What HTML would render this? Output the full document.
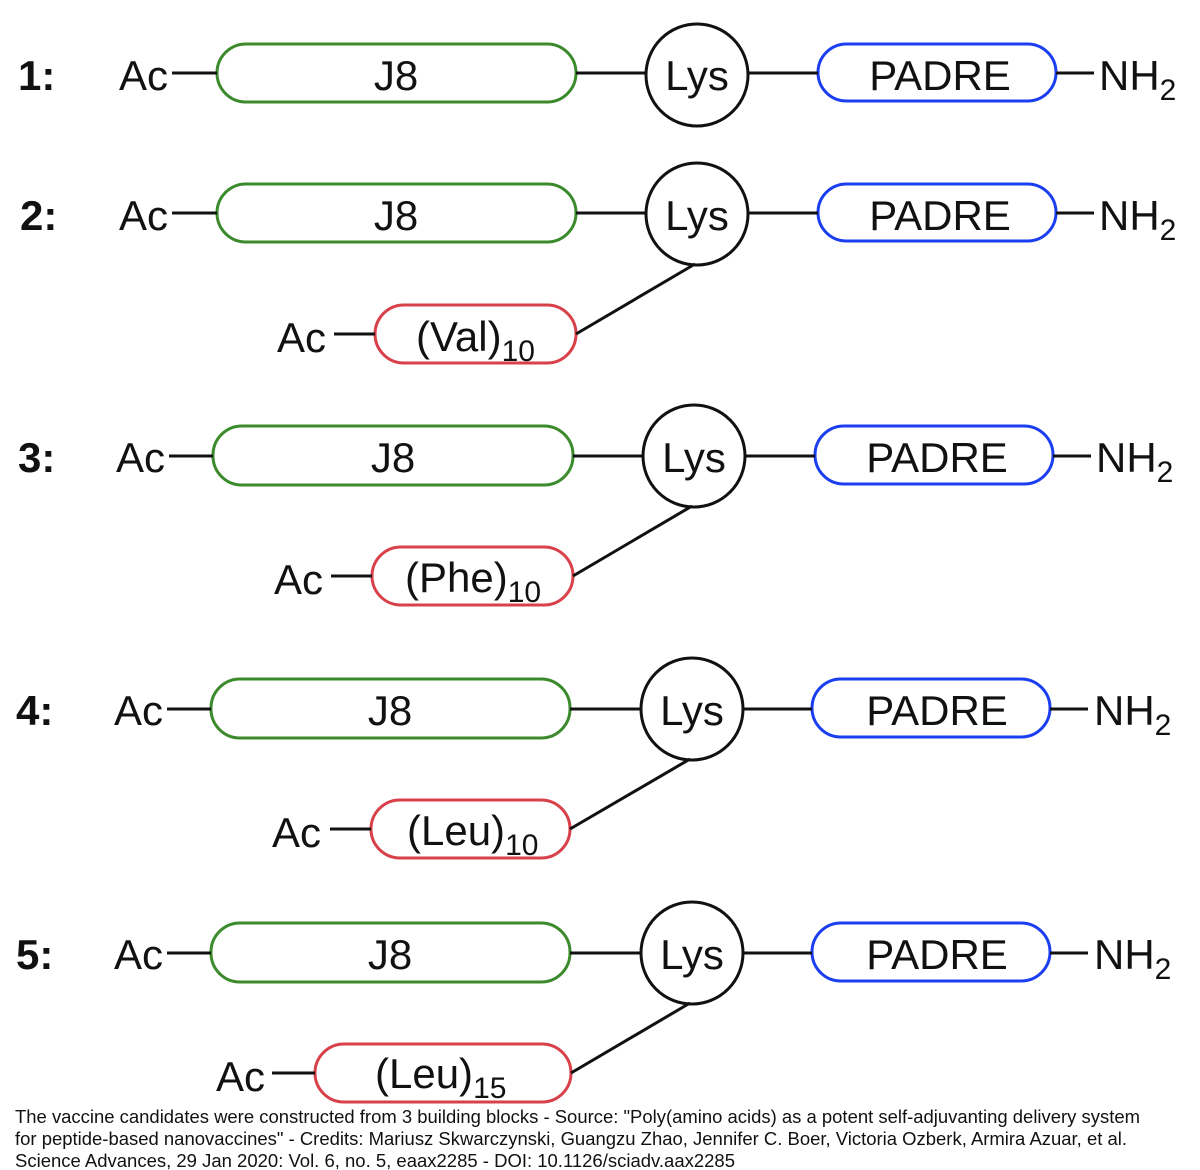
<!DOCTYPE html>
<html><head><meta charset="utf-8"><style>
html,body{margin:0;padding:0;background:#fff;}
svg{display:block;}
text{font-family:"Liberation Sans",Arial,sans-serif;fill:#111;}
</style></head><body>
<svg width="1200" height="1170" viewBox="0 0 1200 1170" xmlns="http://www.w3.org/2000/svg">
<g stroke-width="3" fill="none">
<!-- Row 1 -->
<rect x="217" y="44" width="359" height="58" rx="29" stroke="#3b8a2c"/>
<rect x="818" y="44" width="238" height="57" rx="28.5" stroke="#1a3ef0"/>
<circle cx="697" cy="75" r="51" stroke="#111"/>
<line x1="172" y1="73" x2="217" y2="73" stroke="#111"/>
<line x1="576" y1="73" x2="646" y2="73" stroke="#111"/>
<line x1="748" y1="73" x2="818" y2="73" stroke="#111"/>
<line x1="1056" y1="73" x2="1094" y2="73" stroke="#111"/>
<!-- Row 2 -->
<rect x="217" y="184" width="359" height="58" rx="29" stroke="#3b8a2c"/>
<rect x="818" y="184" width="238" height="57" rx="28.5" stroke="#1a3ef0"/>
<circle cx="697" cy="214" r="51" stroke="#111"/>
<rect x="375" y="305" width="201" height="58" rx="29" stroke="#d8404a"/>
<line x1="172" y1="213" x2="217" y2="213" stroke="#111"/>
<line x1="576" y1="213" x2="646" y2="213" stroke="#111"/>
<line x1="748" y1="213" x2="818" y2="213" stroke="#111"/>
<line x1="1056" y1="213" x2="1094" y2="213" stroke="#111"/>
<line x1="334" y1="334" x2="375" y2="334" stroke="#111"/>
<line x1="576" y1="334" x2="695" y2="264" stroke="#111"/>
<!-- Row 3 -->
<rect x="213" y="426" width="360" height="59" rx="29" stroke="#3b8a2c"/>
<rect x="815" y="426" width="238" height="58" rx="29" stroke="#1a3ef0"/>
<circle cx="694" cy="456" r="51" stroke="#111"/>
<rect x="372" y="547" width="201" height="58" rx="29" stroke="#d8404a"/>
<line x1="169" y1="456" x2="213" y2="456" stroke="#111"/>
<line x1="573" y1="456" x2="643" y2="456" stroke="#111"/>
<line x1="745" y1="456" x2="815" y2="456" stroke="#111"/>
<line x1="1053" y1="456" x2="1091" y2="456" stroke="#111"/>
<line x1="331" y1="576" x2="372" y2="576" stroke="#111"/>
<line x1="573" y1="576" x2="692" y2="506" stroke="#111"/>
<!-- Row 4 -->
<rect x="211" y="679" width="359" height="59" rx="29" stroke="#3b8a2c"/>
<rect x="812" y="679" width="238" height="58" rx="29" stroke="#1a3ef0"/>
<circle cx="692" cy="709" r="51" stroke="#111"/>
<rect x="371" y="800" width="199" height="58" rx="29" stroke="#d8404a"/>
<line x1="167" y1="709" x2="211" y2="709" stroke="#111"/>
<line x1="570" y1="709" x2="641" y2="709" stroke="#111"/>
<line x1="743" y1="709" x2="812" y2="709" stroke="#111"/>
<line x1="1050" y1="709" x2="1088" y2="709" stroke="#111"/>
<line x1="330" y1="829" x2="371" y2="829" stroke="#111"/>
<line x1="570" y1="829" x2="690" y2="759" stroke="#111"/>
<!-- Row 5 -->
<rect x="211" y="923" width="359" height="59" rx="29" stroke="#3b8a2c"/>
<rect x="812" y="923" width="238" height="58" rx="29" stroke="#1a3ef0"/>
<circle cx="692" cy="953" r="51" stroke="#111"/>
<rect x="315" y="1044" width="256" height="58" rx="29" stroke="#d8404a"/>
<line x1="167" y1="953" x2="211" y2="953" stroke="#111"/>
<line x1="570" y1="953" x2="641" y2="953" stroke="#111"/>
<line x1="743" y1="953" x2="812" y2="953" stroke="#111"/>
<line x1="1050" y1="953" x2="1088" y2="953" stroke="#111"/>
<line x1="272" y1="1073" x2="315" y2="1073" stroke="#111"/>
<line x1="571" y1="1073" x2="690" y2="1003" stroke="#111"/>
</g>
<g font-size="42">
<!-- Row 1 -->
<text x="18" y="90" font-weight="bold">1:</text>
<text x="119" y="90">Ac</text>
<text x="396" y="90" text-anchor="middle">J8</text>
<text x="697" y="90" text-anchor="middle">Lys</text>
<text x="940" y="90" text-anchor="middle">PADRE</text>
<text x="1099" y="90">NH<tspan font-size="30" dy="10">2</tspan></text>
<!-- Row 2 -->
<text x="20" y="230" font-weight="bold">2:</text>
<text x="119" y="230">Ac</text>
<text x="396" y="230" text-anchor="middle">J8</text>
<text x="697" y="230" text-anchor="middle">Lys</text>
<text x="940" y="230" text-anchor="middle">PADRE</text>
<text x="1099" y="230">NH<tspan font-size="30" dy="10">2</tspan></text>
<text x="277" y="352">Ac</text>
<text x="416" y="351">(Val)<tspan font-size="30" dy="10">10</tspan></text>
<!-- Row 3 -->
<text x="18" y="472" font-weight="bold">3:</text>
<text x="116" y="472">Ac</text>
<text x="393" y="472" text-anchor="middle">J8</text>
<text x="694" y="472" text-anchor="middle">Lys</text>
<text x="937" y="472" text-anchor="middle">PADRE</text>
<text x="1096" y="472">NH<tspan font-size="30" dy="10">2</tspan></text>
<text x="274" y="594">Ac</text>
<text x="405" y="592">(Phe)<tspan font-size="30" dy="10">10</tspan></text>
<!-- Row 4 -->
<text x="16" y="725" font-weight="bold">4:</text>
<text x="114" y="725">Ac</text>
<text x="390" y="725" text-anchor="middle">J8</text>
<text x="692" y="725" text-anchor="middle">Lys</text>
<text x="937" y="725" text-anchor="middle">PADRE</text>
<text x="1094" y="725">NH<tspan font-size="30" dy="10">2</tspan></text>
<text x="272" y="847">Ac</text>
<text x="407" y="845">(Leu)<tspan font-size="30" dy="10">10</tspan></text>
<!-- Row 5 -->
<text x="16" y="969" font-weight="bold">5:</text>
<text x="114" y="969">Ac</text>
<text x="390" y="969" text-anchor="middle">J8</text>
<text x="692" y="969" text-anchor="middle">Lys</text>
<text x="937" y="969" text-anchor="middle">PADRE</text>
<text x="1094" y="969">NH<tspan font-size="30" dy="10">2</tspan></text>
<text x="216" y="1091">Ac</text>
<text x="375" y="1088">(Leu)<tspan font-size="30" dy="10">15</tspan></text>
</g>
<g font-size="18">
<text x="15" y="1123" textLength="1125" lengthAdjust="spacingAndGlyphs">The vaccine candidates were constructed from 3 building blocks - Source: "Poly(amino acids) as a potent self-adjuvanting delivery system</text>
<text x="15" y="1145" textLength="1112" lengthAdjust="spacingAndGlyphs">for peptide-based nanovaccines" - Credits: Mariusz Skwarczynski, Guangzu Zhao, Jennifer C. Boer, Victoria Ozberk, Armira Azuar, et al.</text>
<text x="15" y="1167" textLength="720" lengthAdjust="spacingAndGlyphs">Science Advances, 29 Jan 2020: Vol. 6, no. 5, eaax2285 - DOI: 10.1126/sciadv.aax2285</text>
</g>
</svg>
</body></html>
